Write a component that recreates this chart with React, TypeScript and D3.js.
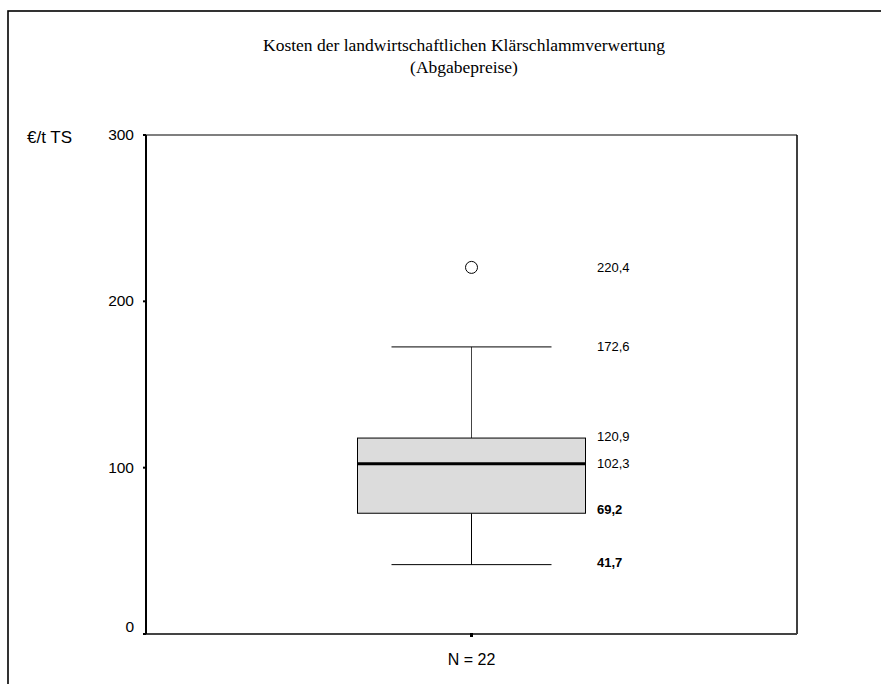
import React from "react";
import * as d3 from "d3";

const titleLines = ["Kosten der landwirtschaftlichen Klärschlammverwertung", "(Abgabepreise)"];
const yTicks = [0, 100, 200, 300];
const yUnit = "€/t TS";
const category = "N = 22";
// box statistics as drawn
const whiskerLow = 41.7;
const q1 = 72.6;
const median = 102.3;
const q3 = 117.8;
const whiskerHigh = 172.6;
const outliers = [220.4];
// annotation labels (text, anchor value, bold)
const labelTexts = ["220,4", "172,6", "120,9", "102,3", "69,2", "41,7"];
const labelValues = [220.4, 172.6, 119.0, 102.3, 75.0, 43.0];
const labelBold = [false, false, false, false, true, true];

const W = 881;
const H = 684;
const plot = { left: 146, top: 135, right: 797, bottom: 634 };

export default function App() {
  const y = d3.scaleLinear().domain([0, 300]).range([plot.bottom, plot.top]);
  const x = d3.scaleBand().domain([category]).range([plot.left, plot.right]).paddingInner(0).paddingOuter(0);
  const cx = (x(category) as number) + x.bandwidth() / 2;
  const boxW = 228;
  const capW = 160;
  const sans = "Liberation Sans, Arial, sans-serif";
  return (
    <svg width={W} height={H} style={{ position: "absolute", left: 0, top: 0, background: "#fff" }}>
      <rect x={8} y={11} width={W} height={H} fill="none" stroke="#000" strokeWidth={1.6} />
      {titleLines.map((t, i) => (
        <text key={i} x={464} y={51 + i * 22} textAnchor="middle" fontFamily="Liberation Serif, Times New Roman, serif" fontSize={17.5} fill="#000">
          {t}
        </text>
      ))}
      {/* plot frame */}
      <line x1={plot.left} x2={plot.right} y1={plot.top} y2={plot.top} stroke="#555" strokeWidth={1.5} />
      <line x1={plot.right} x2={plot.right} y1={plot.top} y2={plot.bottom} stroke="#000" strokeWidth={1.5} />
      <line x1={plot.left} x2={plot.right} y1={plot.bottom} y2={plot.bottom} stroke="#444" strokeWidth={2} />
      <line x1={plot.left} x2={plot.left} y1={plot.top} y2={plot.bottom} stroke="#000" strokeWidth={2} />
      {yTicks.map((t) => (
        <g key={t}>
          <line x1={plot.left - 3} x2={plot.left} y1={y(t)} y2={y(t)} stroke="#000" strokeWidth={2} />
          <text x={t === 0 ? 134 : 134} y={t === 0 ? y(t) - 2 : y(t) + 5} textAnchor="end" fontFamily={sans} fontSize={15.5} fill="#000">
            {t}
          </text>
        </g>
      ))}
      <text x={27} y={143} fontFamily={sans} fontSize={17} fill="#000">{yUnit}</text>
      {/* x tick */}
      <rect x={cx - 1.5} y={plot.bottom - 1} width={3} height={4} fill="#000" />
      <text x={cx} y={665} textAnchor="middle" fontFamily={sans} fontSize={16} fill="#000">{category}</text>
      {/* whiskers */}
      <line x1={cx} x2={cx} y1={y(q3)} y2={y(whiskerHigh)} stroke="#444" strokeWidth={1} />
      <line x1={cx} x2={cx} y1={y(q1)} y2={y(whiskerLow)} stroke="#000" strokeWidth={1} />
      <line x1={cx - capW / 2} x2={cx + capW / 2} y1={y(whiskerHigh)} y2={y(whiskerHigh)} stroke="#000" strokeWidth={1} />
      <line x1={cx - capW / 2} x2={cx + capW / 2} y1={y(whiskerLow)} y2={y(whiskerLow)} stroke="#000" strokeWidth={1} />
      {/* box */}
      <rect x={cx - boxW / 2} y={y(q3)} width={boxW} height={y(q1) - y(q3)} fill="#dcdcdc" stroke="#000" strokeWidth={1} />
      <line x1={cx - boxW / 2} x2={cx + boxW / 2} y1={y(median)} y2={y(median)} stroke="#000" strokeWidth={3} />
      {outliers.map((o, i) => (
        <circle key={i} cx={cx} cy={y(o)} r={6} fill="#fff" stroke="#000" strokeWidth={1} />
      ))}
      {labelTexts.map((t, i) => (
        <text key={t} x={597} y={y(labelValues[i]) + 4.5} fontFamily={sans} fontSize={13} fontWeight={labelBold[i] ? "bold" : "normal"} fill="#000">
          {t}
        </text>
      ))}
    </svg>
  );
}
